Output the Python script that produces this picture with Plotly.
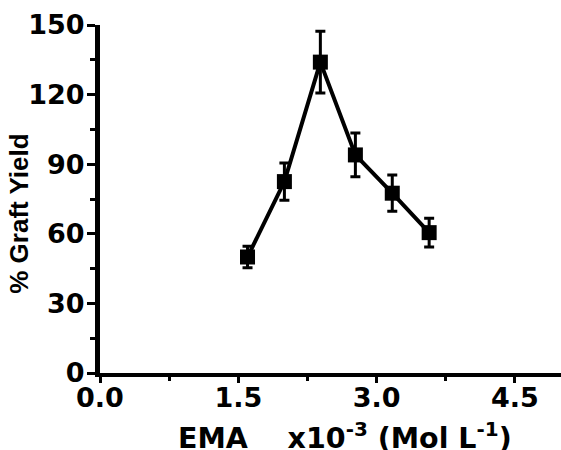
import plotly.graph_objects as go

ema = [1.6, 2.0, 2.39, 2.77, 3.17, 3.57]
graft_yield = [50.0, 82.5, 134.0, 94.0, 77.5, 60.5]
yield_err = [4.6, 8.0, 13.3, 9.4, 7.8, 6.2]

x_ticks = [0.0, 1.5, 3.0, 4.5]
y_ticks = [0, 30, 60, 90, 120, 150]

W, H = 561, 450
L, R, T, B = 100, 0, 25, 76.5

fig = go.Figure()
fig.add_trace(go.Scatter(
    x=ema, y=graft_yield, mode="lines+markers",
    line=dict(color="black", width=4),
    marker=dict(symbol="square", size=15, color="black"),
    error_y=dict(type="data", array=yield_err, visible=True,
                 color="black", thickness=3, width=5),
    showlegend=False,
))

tick_font = dict(family="DejaVu Sans", size=27, color="black", weight="bold")

fig.update_layout(
    width=W, height=H,
    margin=dict(l=L, r=R, t=T, b=B, pad=0),
    paper_bgcolor="white", plot_bgcolor="white",
    xaxis=dict(range=[0, 5.0], tickvals=x_ticks,
               ticktext=[f"{v:.1f}" for v in x_ticks],
               showline=True, linecolor="black", linewidth=4,
               ticks="outside", ticklen=6, tickwidth=3, tickcolor="black",
               ticklabelstandoff=-8,
               minor=dict(dtick=0.75, tick0=0, ticks="outside", ticklen=4,
                          tickwidth=3, tickcolor="black"),
               showgrid=False, zeroline=False, tickfont=tick_font),
    yaxis=dict(range=[0, 150], tickvals=y_ticks,
               showline=True, linecolor="black", linewidth=5,
               ticks="outside", ticklen=8, tickwidth=3, tickcolor="black",
               ticklabelstandoff=-3,
               minor=dict(dtick=15, tick0=0, ticks="outside", ticklen=5,
                          tickwidth=3, tickcolor="black"),
               showgrid=False, zeroline=False, tickfont=tick_font),
)

plot_w = W - L - R
plot_h = H - T - B

fig.add_annotation(
    text="% Graft Yield", textangle=-90, showarrow=False,
    xref="paper", yref="paper",
    x=(19 - L) / plot_w, y=(H - B - 214) / plot_h,
    xanchor="center", yanchor="middle",
    font=dict(family="Liberation Sans, Arial, sans-serif", size=26,
              color="black", weight="bold"),
)

fig.add_annotation(
    text="EMA\u00a0\u00a0\u00a0\u00a0x10<sup>-3</sup> (Mol L<sup>-1</sup>)",
    showarrow=False, xref="paper", yref="paper",
    x=(345 - L) / plot_w, y=(H - B - 437) / plot_h,
    xanchor="center", yanchor="middle",
    font=dict(family="DejaVu Sans", size=28.5, color="black", weight="bold"),
)

fig.write_html("out.html")
